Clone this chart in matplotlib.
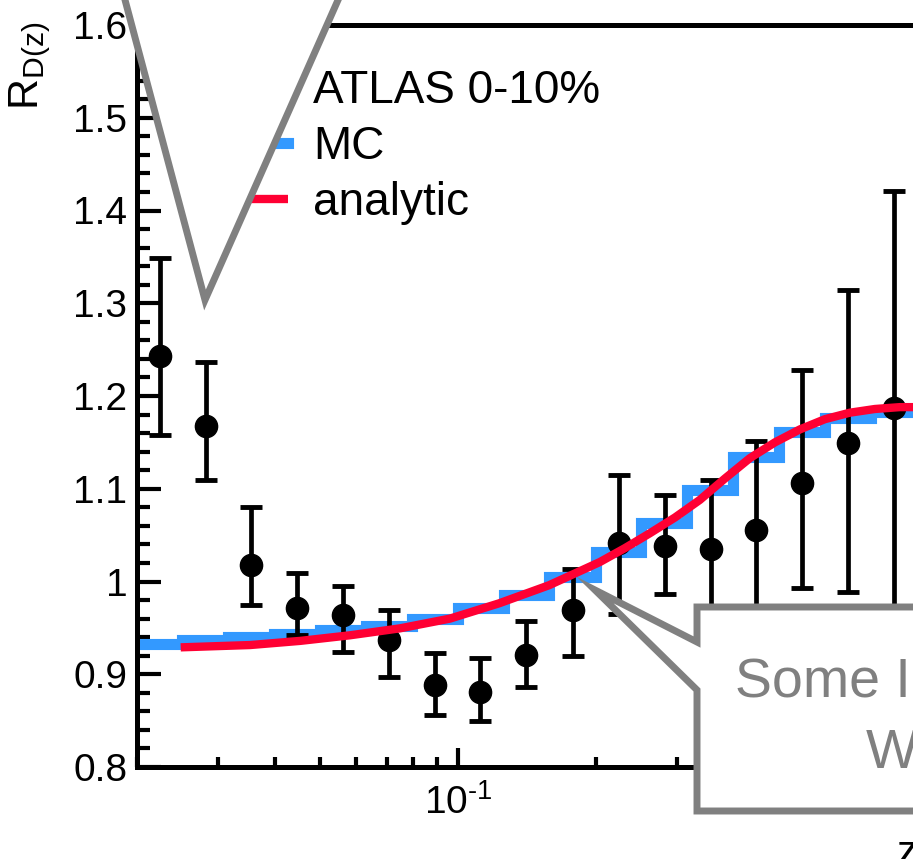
import matplotlib
matplotlib.use("Agg")
import matplotlib.pyplot as plt
from matplotlib.patches import Polygon
from matplotlib.ticker import MultipleLocator, LogLocator, NullFormatter

W, H = 913, 859

# data points (ATLAS 0-10%)
z_points = [0.0224, 0.0282, 0.0355, 0.0447, 0.0562, 0.0708, 0.0891, 0.112, 0.141,
            0.178, 0.224, 0.282, 0.355, 0.447, 0.562, 0.708, 0.891]
r_points = [1.243, 1.168, 1.018, 0.971, 0.964, 0.937, 0.888, 0.881, 0.921,
            0.969, 1.041, 1.038, 1.035, 1.056, 1.106, 1.149, 1.187]
r_high = [1.349, 1.237, 1.080, 1.009, 0.995, 0.969, 0.923, 0.918, 0.957,
          1.013, 1.115, 1.093, 1.109, 1.151, 1.228, 1.314, 1.421]
r_low = [1.158, 1.109, 0.975, 0.942, 0.924, 0.897, 0.856, 0.850, 0.886,
         0.920, 0.965, 0.987, 0.960, 0.960, 0.993, 0.989, 0.953]

# MC histogram
mc_edges = [0.02, 0.0251, 0.0316, 0.0398, 0.0501, 0.0631, 0.0794, 0.1, 0.126,
            0.158, 0.2, 0.251, 0.316, 0.398, 0.501, 0.631, 0.794, 1.0]
mc_values = [0.933, 0.937, 0.940, 0.943, 0.948, 0.952, 0.960, 0.971, 0.985,
             1.005, 1.032, 1.063, 1.099, 1.134, 1.161, 1.176, 1.183]

# analytic curve
z_curve = [0.0249, 0.0353, 0.0454, 0.0582, 0.0748, 0.0961, 0.123, 0.158, 0.2038,
           0.2311, 0.2618, 0.297, 0.3365, 0.3815, 0.4325, 0.4903, 0.5559, 0.630,
           0.714, 0.8096, 0.9175, 1.0]
r_curve = [0.929, 0.9315, 0.936, 0.942, 0.9495, 0.960, 0.9765, 0.996, 1.021,
           1.036, 1.052, 1.069, 1.088, 1.111, 1.133, 1.150, 1.164, 1.175,
           1.182, 1.186, 1.188, 1.188]

y_ticks = [0.8, 0.9, 1.0, 1.1, 1.2, 1.3, 1.4, 1.5, 1.6]
y_tick_labels = ["0.8", "0.9", "1", "1.1", "1.2", "1.3", "1.4", "1.5", "1.6"]
legend_labels = ["ATLAS 0-10%", "MC", "analytic"]
callout_lines = ["Some Interesting", "Words"]

plt.rcParams["font.family"] = ["Liberation Sans", "DejaVu Sans"]
plt.rcParams["mathtext.fontset"] = "custom"
plt.rcParams["mathtext.rm"] = "Liberation Sans"
plt.rcParams["mathtext.it"] = "Liberation Sans:italic"
plt.rcParams["axes.unicode_minus"] = False


def fpx(x, y):
    # pixel (from top-left) -> figure fraction
    return x / W, 1 - y / H


fig = plt.figure(figsize=(W / 100, H / 100), dpi=100)
left, top = 137, 25
right, bottom = 917, 767
ax = fig.add_axes([left / W, 1 - bottom / H, (right - left) / W, (bottom - top) / H])

mc = ax.stairs(mc_values, mc_edges, color="#3399ff", lw=8, baseline=None, zorder=2)
yerr = [[v - lo for v, lo in zip(r_points, r_low)], [hi - v for v, hi in zip(r_points, r_high)]]
data = ax.errorbar(z_points, r_points, yerr=yerr, fmt="o", color="black", ms=16,
                   elinewidth=3.4, capsize=8, capthick=3.5, zorder=3)
curve, = ax.plot(z_curve, r_curve, color="#ff0033", lw=6, solid_capstyle="butt", zorder=4)

ax.set_xscale("log")
ax.set_xlim(0.02, 1.0)
ax.set_ylim(0.8, 1.6)
ax.set_yticks(y_ticks, labels=y_tick_labels)
ax.yaxis.set_minor_locator(MultipleLocator(0.02))
ax.set_xticks([0.1], labels=[r"$\mathregular{10^{\text{-}1}}$"])
ax.xaxis.set_minor_locator(LogLocator(base=10, subs=range(2, 10)))
ax.xaxis.set_minor_formatter(NullFormatter())

ax.tick_params(axis="y", which="major", direction="in", length=17, width=3, labelsize=28, pad=7)
ax.tick_params(axis="y", which="minor", direction="in", length=9.5, width=3)
ax.tick_params(axis="x", which="major", direction="in", length=14, width=3, labelsize=28, pad=12)
ax.tick_params(axis="x", which="minor", direction="in", length=7, width=3)
for side in ["left", "bottom", "top", "right"]:
    ax.spines[side].set_linewidth(3.6)

leg = ax.legend([data, mc, curve], legend_labels, loc="upper left",
                bbox_to_anchor=fpx(219, 69), bbox_transform=fig.transFigure,
                frameon=False, fontsize=33, handlelength=1.5, handletextpad=0.55,
                labelspacing=0.26, borderpad=0, borderaxespad=0)

fig.text(*fpx(30, 22), r"R$_{\mathregular{D(z)}}$", rotation=90, ha="center", va="top", fontsize=31)
fig.text(*fpx(896, 834), "z", ha="left", va="top", fontsize=30)

grey = "#808080"
tri = Polygon([fpx(119.7, -20), fpx(205, 300), fpx(346.9, -20)], closed=True,
              transform=fig.transFigure, facecolor="white", edgecolor=grey, lw=5, zorder=20)
fig.add_artist(tri)
box = Polygon([fpx(595, 590), fpx(697, 642), fpx(697, 607), fpx(1000, 607), fpx(1000, 811),
               fpx(697, 811), fpx(697, 690)], closed=True,
              transform=fig.transFigure, facecolor="white", edgecolor=grey, lw=5, zorder=20)
fig.add_artist(box)
fig.text(*fpx(945, 697), callout_lines[0], ha="center", va="baseline", fontsize=40, color=grey, zorder=21)
fig.text(*fpx(945, 767), callout_lines[1], ha="center", va="baseline", fontsize=40, color=grey, zorder=21)

fig.savefig("out.png", dpi=100)
